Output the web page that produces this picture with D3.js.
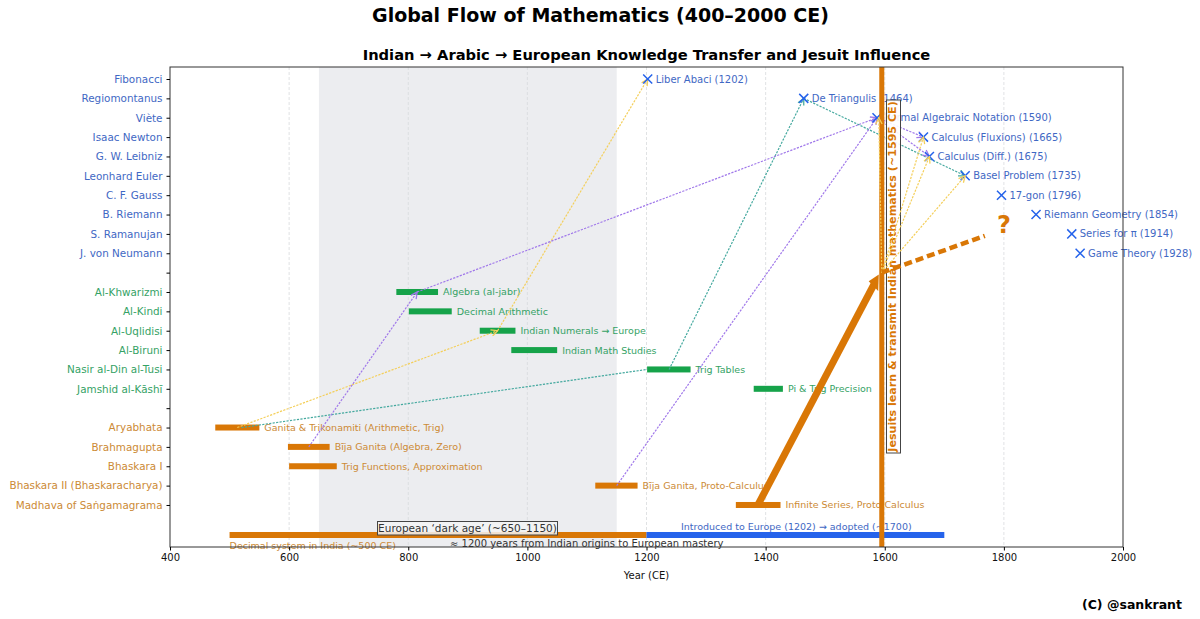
<!DOCTYPE html>
<html>
<head>
<meta charset="utf-8">
<script src="https://cdn.jsdelivr.net/npm/d3@7"></script>
<style>
	html, body {margin: 0; background: #fff;}
	svg {display: block;}
	text {font-family: "DejaVu Sans", sans-serif;}
</style>
</head>
<body>
<svg id="chart" width="1200" height="619"></svg>
<script>
const ORANGE = "#d97706", GREEN = "#16a34a", BLUE = "#2563eb"
const ORANGE_TEXT = "#cc8a35", GREEN_TEXT = "#35a265", BLUE_TEXT = "#3f68c4"

//Top to bottom, "" is a spacer row between the groups
const rowNames = [
	"Fibonacci", "Regiomontanus", "Viète", "Isaac Newton", "G. W. Leibniz", "Leonhard Euler",
	"C. F. Gauss", "B. Riemann", "S. Ramanujan", "J. von Neumann", "",
	"Al-Khwarizmi", "Al-Kindi", "Al-Uqlidisi", "Al-Biruni", "Nasir al-Din al-Tusi", "Jamshid al-Kāshī", "",
	"Aryabhata", "Brahmagupta", "Bhaskara I", "Bhaskara II (Bhaskaracharya)", "Madhava of Saṅgamagrama",
]
const rowColors = [...Array(11).fill(BLUE_TEXT), ...Array(7).fill(GREEN_TEXT), ...Array(5).fill(ORANGE_TEXT)]

const europeRows = [0, 1, 2, 3, 4, 5, 6, 7, 8, 9]
const europeYears = [1202, 1464, 1587, 1665, 1675, 1735, 1796, 1854, 1914, 1928]
const europeLabels = [
	"Liber Abaci (1202)", "De Triangulis (1464)", "Formal Algebraic Notation (1590)", "Calculus (Fluxions) (1665)",
	"Calculus (Diff.) (1675)", "Basel Problem (1735)", "17-gon (1796)", "Riemann Geometry (1854)",
	"Series for π (1914)", "Game Theory (1928)",
]

const arabicRows = [11, 12, 13, 14, 15, 16]
const arabicStarts = [780, 801, 920, 973, 1201, 1380]
const arabicEnds = [850, 873, 980, 1050, 1274, 1429]
const arabicLabels = [
	"Algebra (al-jabr)", "Decimal Arithmetic", "Indian Numerals → Europe",
	"Indian Math Studies", "Trig Tables", "Pi & Trig Precision",
]

const indianRows = [18, 19, 20, 21, 22]
const indianStarts = [476, 598, 600, 1114, 1350]
const indianEnds = [550, 668, 680, 1185, 1425]
const indianLabels = [
	"Ganita & Trikonamiti (Arithmetic, Trig)", "Bīja Ganita (Algebra, Zero)", "Trig Functions, Approximation",
	"Bīja Ganita, Proto-Calculus", "Infinite Series, Proto Calculus",
]

//Thin dotted transfer arrows: [year, row, year, row]
const yellowLinks = [[513, 18, 950, 13], [950, 13, 1202, 0]]
const jesuitLinks = [[1595, 10, 1590, 2], [1595, 10, 1665, 3], [1595, 10, 1675, 4], [1595, 10, 1735, 5]]
const tealLinks = [[1238, 15, 1464, 1], [1464, 1, 1735, 5]]
const tealPlainLinks = [[520, 18, 1201, 15]]
const purpleLinks = [[633, 19, 815, 11], [815, 11, 1587, 2], [1150, 21, 1587, 2], [1587, 2, 1665, 3], [1587, 2, 1675, 4]]

const xTicks = [400, 600, 800, 1000, 1200, 1400, 1600, 1800, 2000]

const margin = {left: 170, right: 1123, top: 67, bottom: 547}
const x = d3.scaleLinear().domain([400, 2000]).range([margin.left, margin.right])
const y = d3.scaleLinear().domain([-0.62, 24.17]).range([margin.top, margin.bottom])

const svg = d3.select("#chart")

function addHead(id, color, size) {
	svg.append("defs").append("marker")
		.attr("id", id)
		.attr("viewBox", "0 0 10 10").attr("refX", 9).attr("refY", 5)
		.attr("markerWidth", size).attr("markerHeight", size)
		.attr("markerUnits", "userSpaceOnUse")
		.attr("orient", "auto")
		.append("path")
		.attr("d", "M 1 1 L 9 5 L 1 9")
		.attr("fill", "none").attr("stroke", color).attr("stroke-width", 1.6)
}
addHead("headYellow", "#f4cf5a", 8)
addHead("headTeal", "#45a99f", 8)
addHead("headPurple", "#a078ea", 8)

svg.append("rect")
	.attr("x", x(650)).attr("y", margin.top)
	.attr("width", x(1150) - x(650)).attr("height", margin.bottom - margin.top)
	.attr("fill", "#ecedf0")

svg.append("g").selectAll("line")
	.data(xTicks.slice(1, -1))
	.join("line")
		.attr("x1", d => x(d)).attr("x2", d => x(d))
		.attr("y1", margin.top).attr("y2", margin.bottom)
		.attr("stroke", "#d8dadd").attr("stroke-width", 0.8).attr("stroke-dasharray", "3,2")

function drawLinks(links, color, head) {
	const lines = svg.append("g").selectAll("line")
		.data(links)
		.join("line")
			.attr("x1", d => x(d[0])).attr("y1", d => y(d[1]))
			.attr("x2", d => x(d[2])).attr("y2", d => y(d[3]))
			.attr("stroke", color).attr("stroke-width", 1.2).attr("stroke-dasharray", "2.2,1.3")
	if (head) lines.attr("marker-end", `url(#${head})`)
}

function drawBars(rows, starts, ends, labels, color, textColor) {
	const g = svg.append("g")
	g.selectAll("rect")
		.data(rows)
		.join("rect")
			.attr("x", (d, i) => x(starts[i])).attr("y", d => y(d) - 3)
			.attr("width", (d, i) => x(ends[i]) - x(starts[i])).attr("height", 6)
			.attr("fill", color)
	g.selectAll("text")
		.data(rows)
		.join("text")
			.attr("x", (d, i) => x(ends[i]) + 5).attr("y", d => y(d) + 3.5)
			.attr("font-size", 9.5).attr("fill", textColor)
			.text((d, i) => labels[i])
}

drawBars(arabicRows, arabicStarts, arabicEnds, arabicLabels, GREEN, GREEN_TEXT)
drawBars(indianRows, indianStarts, indianEnds, indianLabels, ORANGE, ORANGE_TEXT)

drawLinks(yellowLinks, "#f4cf5a", "headYellow")
drawLinks(tealLinks, "#45a99f", "headTeal")
drawLinks(tealPlainLinks, "#45a99f")
drawLinks(purpleLinks, "#a078ea", "headPurple")

//Bottom timeline
const bandRow = 23.55
svg.append("rect").attr("x", x(500)).attr("y", y(bandRow) - 3).attr("width", x(1200) - x(500)).attr("height", 6).attr("fill", ORANGE)
svg.append("rect").attr("x", x(1200)).attr("y", y(bandRow) - 3).attr("width", x(1700) - x(1200)).attr("height", 6).attr("fill", BLUE)

svg.append("text").attr("x", x(500)).attr("y", 549).attr("font-size", 9.5).attr("fill", ORANGE_TEXT)
	.text("Decimal system in India (~500 CE)")
svg.append("text").attr("x", 450).attr("y", 546.5).attr("font-size", 10).attr("fill", "#333")
	.text("≈ 1200 years from Indian origins to European mastery")
svg.append("text").attr("x", 681).attr("y", 530).attr("font-size", 9.5).attr("fill", BLUE_TEXT)
	.text("Introduced to Europe (1202) → adopted (~1700)")

svg.append("rect").attr("x", 377.5).attr("y", 521.5).attr("width", 180).attr("height", 13.5)
	.attr("fill", "#f3f3f4").attr("fill-opacity", 0.85).attr("stroke", "#444").attr("stroke-width", 1)
svg.append("text").attr("x", 467.5).attr("y", 532).attr("text-anchor", "middle").attr("font-size", 10.5).attr("fill", "#333")
	.text("European ‘dark age’ (~650–1150)")

//European milestones
const marks = svg.append("g")
marks.selectAll("path")
	.data(europeRows)
	.join("path")
		.attr("d", d3.symbol(d3.symbolTimes, 55))
		.attr("transform", (d, i) => `translate(${x(europeYears[i])},${y(d)})`)
		.attr("stroke", BLUE).attr("stroke-width", 1.5).attr("fill", BLUE)
marks.selectAll("text")
	.data(europeRows)
	.join("text")
		.attr("x", (d, i) => x(europeYears[i]) + 8).attr("y", d => y(d) + 3.5)
		.attr("font-size", 10).attr("fill", BLUE_TEXT)
		.text((d, i) => europeLabels[i])

//Jesuit transmission
svg.append("line")
	.attr("x1", x(1595)).attr("x2", x(1595)).attr("y1", margin.top).attr("y2", margin.bottom)
	.attr("stroke", ORANGE).attr("stroke-width", 5)

svg.append("line")
	.attr("x1", x(1387)).attr("y1", y(22)).attr("x2", x(1582)).attr("y2", y(10.6))
	.attr("stroke", ORANGE).attr("stroke-width", 7)
svg.append("path")
	.attr("d", d3.line()([[x(1590), y(10.1)], [x(1573), y(10.45)], [x(1589), y(10.95)]]))
	.attr("fill", ORANGE)

svg.append("text").attr("x", x(1800)).attr("y", y(7.95)).attr("text-anchor", "middle")
	.attr("font-size", 24).attr("font-weight", "bold").attr("fill", ORANGE).text("?")

svg.append("rect").attr("x", 886.5).attr("y", 100).attr("width", 14).attr("height", 353)
	.attr("fill", "#fff").attr("fill-opacity", 0.9).attr("stroke", "#444").attr("stroke-width", 1)
svg.append("text")
	.attr("transform", `translate(896,276.5) rotate(-90)`)
	.attr("text-anchor", "middle").attr("font-size", 11.1).attr("font-weight", "bold").attr("fill", ORANGE)
	.text("Jesuits learn & transmit Indian mathematics (~1595 CE)")

drawLinks(jesuitLinks, "#f4cf5a", "headYellow")

svg.append("line")
	.attr("x1", x(1595)).attr("y1", y(10)).attr("x2", x(1768)).attr("y2", y(8.1))
	.attr("stroke", ORANGE).attr("stroke-width", 4.5).attr("stroke-dasharray", "8,4")

//Axes
svg.append("rect")
	.attr("x", margin.left).attr("y", margin.top)
	.attr("width", margin.right - margin.left).attr("height", margin.bottom - margin.top)
	.attr("fill", "none").attr("stroke", "#333").attr("stroke-width", 1)

const xAxis = svg.append("g")
	.attr("transform", `translate(0,${margin.bottom})`)
	.call(d3.axisBottom(x).tickValues(xTicks).tickFormat(d3.format("d")).tickSize(3.5).tickPadding(3))
xAxis.selectAll("text").attr("font-size", 10).attr("font-family", "DejaVu Sans").attr("fill", "#111")
xAxis.select(".domain").remove()

const yAxis = svg.append("g")
	.attr("transform", `translate(${margin.left},0)`)
	.call(d3.axisLeft(y).tickValues(d3.range(rowNames.length)).tickFormat(i => rowNames[i]).tickSize(3.5).tickPadding(4))
yAxis.selectAll("text").attr("font-size", 10.4).attr("font-family", "DejaVu Sans").attr("fill", i => rowColors[i])
yAxis.select(".domain").remove()

svg.append("text").attr("x", 646.5).attr("y", 578.5).attr("text-anchor", "middle").attr("font-size", 10).attr("fill", "#111")
	.text("Year (CE)")

svg.append("text").attr("x", 600.5).attr("y", 21.5).attr("text-anchor", "middle")
	.attr("font-size", 19).attr("font-weight", "bold").attr("fill", "#000")
	.text("Global Flow of Mathematics (400–2000 CE)")
svg.append("text").attr("x", 646.5).attr("y", 60).attr("text-anchor", "middle")
	.attr("font-size", 14.7).attr("font-weight", "bold").attr("fill", "#000")
	.text("Indian → Arabic → European Knowledge Transfer and Jesuit Influence")
svg.append("text").attr("x", 1182).attr("y", 609).attr("text-anchor", "end")
	.attr("font-size", 12.5).attr("font-weight", "bold").attr("fill", "#000")
	.text("(C) @sankrant")
</script>
</body>
</html>
